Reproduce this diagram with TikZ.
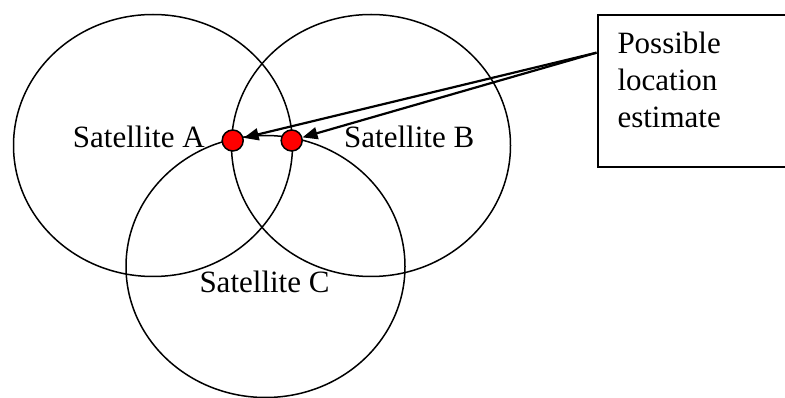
\documentclass[tikz,border=0pt]{standalone}
\usepackage{fontspec}
\setmainfont{Liberation Serif}
\usetikzlibrary{arrows.meta,shapes.geometric}
\begin{document}
\begin{tikzpicture}[x=1pt,y=-1pt,
  orbit/.style={draw,line width=1.5pt,ellipse,minimum width=279pt,minimum height=262pt,inner sep=0pt},
  fix/.style={draw,line width=1.5pt,fill=red,circle,minimum size=21pt,inner sep=0pt},
  lbl/.style={anchor=base west,inner sep=0pt,font=\fontsize{31}{37}\selectfont},
  pointer/.style={line width=2.2pt,-{Triangle[length=15pt,width=12pt]}},
  note/.style={draw,line width=2.3pt,anchor=north west,minimum width=220pt,minimum height=152pt,inner sep=0pt}]
\useasboundingbox (0,0) rectangle (785,398);
\clip (0,0) rectangle (785,398);
\node[orbit] (cA) at (153,145.5) {};
\node[orbit] (cB) at (371,145.5) {};
\node[orbit] (cC) at (265.5,266.5) {};
\node[lbl] (tA) at (72.7,147.7) {Satellite A};
\node[lbl] (tB) at (344,147.7) {Satellite B};
\node[lbl] (tC) at (199.3,292.7) {Satellite C};
\node[fix] (dA) at (232.7,140.5) {};
\node[fix] (dB) at (291.7,140.5) {};
\node[note] (box) at (596.5,14) {};
\node[lbl,align=left,anchor=north west] (btxt) at (617.3,32) {Possible\\location\\estimate};
\coordinate (src) at (596.5,52.7);
\draw[pointer] (src) -- (dA);
\draw[pointer] (src) -- (dB);
\end{tikzpicture}
\end{document}
